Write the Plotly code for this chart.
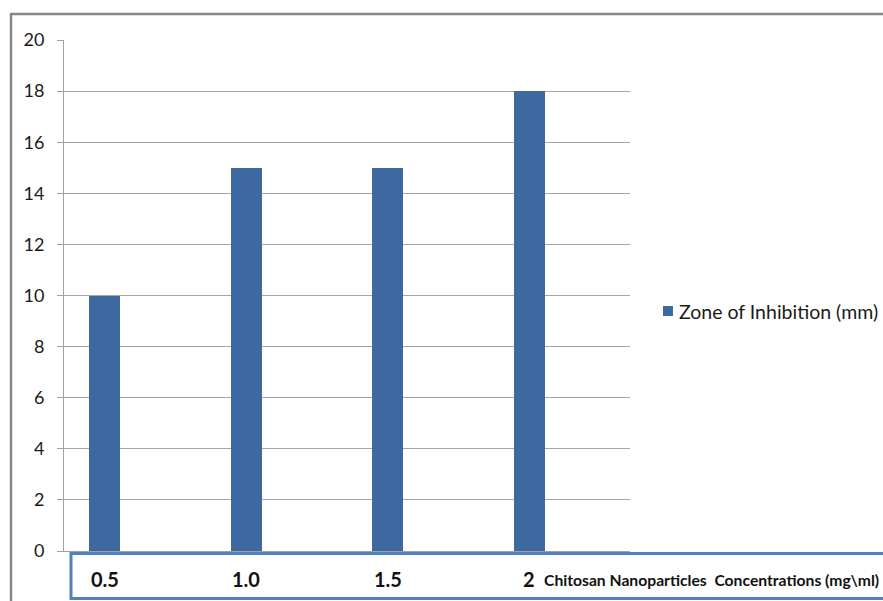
import plotly.graph_objects as go

categories = ["0.5", "1.0", "1.5", "2"]
zone_mm = [10, 15, 15, 18]
y_ticks = [0, 2, 4, 6, 8, 10, 12, 14, 16, 18, 20]
series_name = "Zone of Inhibition (mm)"
x_title = "Chitosan Nanoparticles  Concentrations (mg\\ml)"

W, H = 883, 601
L, R, T, B = 64, 630, 40, 551
pw, ph = R - L, B - T
bar_color = "#3D69A0"

def px(x):
    return (x - L) / pw

def py(y):
    return (B - y) / ph

xpos = list(range(len(categories)))
bar_offset = -0.323
bar_width = 0.219
centers = [x + bar_offset + bar_width / 2 for x in xpos]

fig = go.Figure()
fig.add_trace(go.Bar(
    x=xpos, y=zone_mm, name=series_name,
    marker=dict(color=bar_color, line=dict(width=0)),
    width=bar_width, offset=bar_offset, showlegend=False,
))

fig.update_layout(
    width=W, height=H,
    margin=dict(l=L, r=W - R, t=T, b=H - B, pad=0, autoexpand=False),
    paper_bgcolor="white", plot_bgcolor="white",
    font=dict(family="Lato, 'Noto Sans', sans-serif", color="#1a1a1a"),
    showlegend=False,
    bargap=0,
)
fig.update_xaxes(range=[-0.5, len(categories) - 0.5], showgrid=False,
                 showticklabels=False, showline=True, linecolor="#A0A0A0",
                 linewidth=1, zeroline=False, ticks="")
fig.update_yaxes(range=[0, 20], tickvals=y_ticks, showgrid=True,
                 gridcolor="#A6A6A6", gridwidth=1, showline=True,
                 linecolor="#A0A0A0", linewidth=1, ticks="outside",
                 ticklen=6, tickcolor="#A0A0A0", zeroline=False,
                 ticklabelstandoff=9,
                 tickfont=dict(size=18, color="#1a1a1a"))

# outer chart border (top and left)
fig.add_shape(type="line", xref="paper", yref="paper",
              x0=px(11), x1=px(890), y0=py(14), y1=py(14),
              line=dict(color="#878787", width=2.5))
fig.add_shape(type="line", xref="paper", yref="paper",
              x0=px(11), x1=px(11), y0=py(13), y1=py(610),
              line=dict(color="#878787", width=2.5))

# blue box containing category labels
fig.add_shape(type="rect", xref="paper", yref="paper",
              x0=px(71), x1=px(895), y0=py(598.5), y1=py(553.5),
              line=dict(color="#4F81BD", width=3), fillcolor="white")

for c, lab in zip(centers, categories):
    fig.add_annotation(x=c, xref="x", y=py(579), yref="paper",
                       text="<b>" + lab + "</b>", showarrow=False,
                       xanchor="center", yanchor="middle",
                       font=dict(size=20, color="#111111"))

fig.add_annotation(x=px(542), xref="paper", y=py(580), yref="paper",
                   text="<b>" + x_title + "</b>", showarrow=False,
                   xanchor="left", yanchor="middle",
                   font=dict(size=15.7, color="#111111"))

# legend (series key)
fig.add_shape(type="rect", xref="paper", yref="paper",
              x0=px(663), x1=px(673), y0=py(316), y1=py(306),
              line=dict(width=0), fillcolor=bar_color)
fig.add_annotation(x=px(677), xref="paper", y=py(311), yref="paper",
                   text=series_name, showarrow=False,
                   xanchor="left", yanchor="middle",
                   font=dict(size=19.5, color="#1a1a1a"))

fig.write_html(
    "out.html",
    config={"displayModeBar": False},
    post_script="document.body.style.margin='0';document.body.style.overflow='hidden';",
)
